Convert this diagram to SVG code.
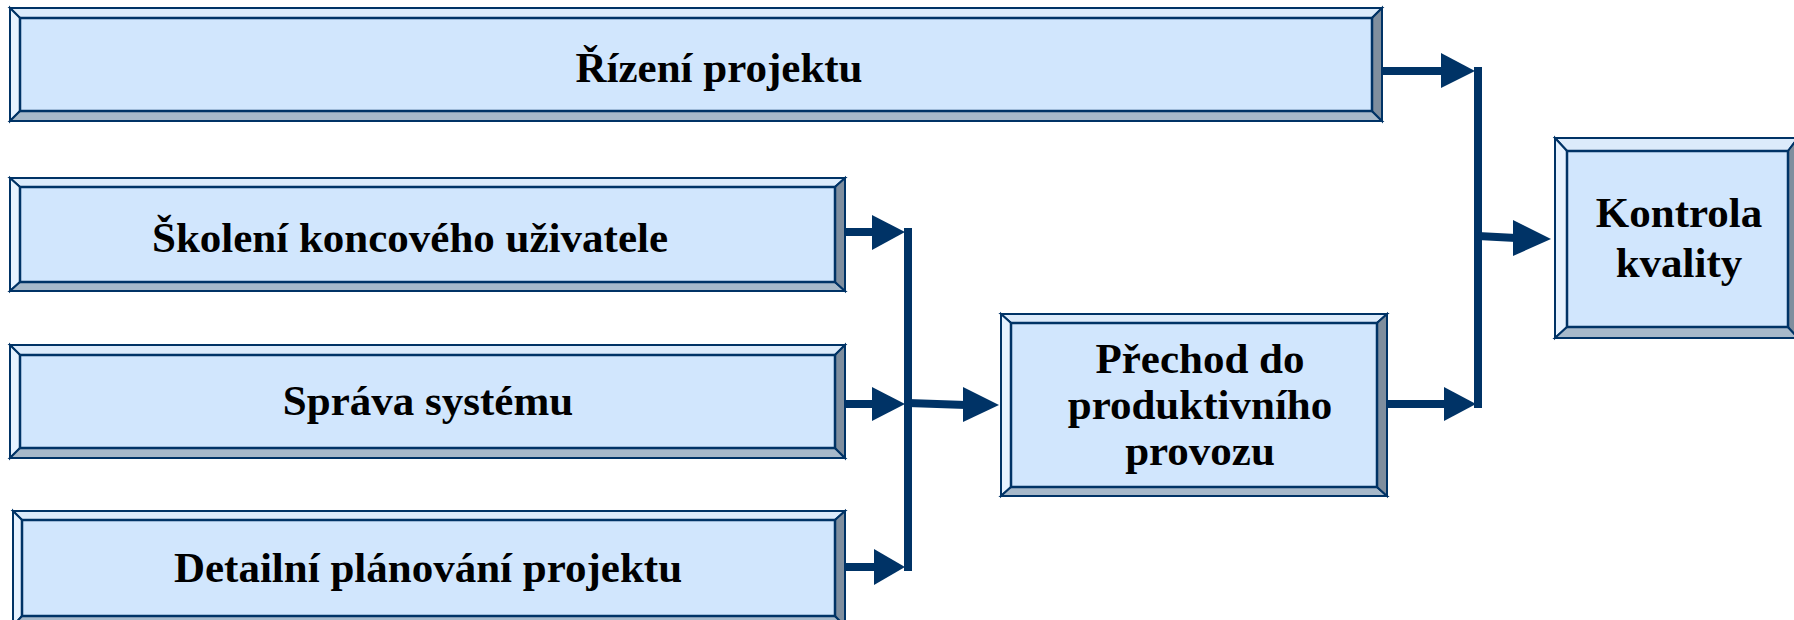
<svg xmlns="http://www.w3.org/2000/svg" width="1794" height="620" viewBox="0 0 1794 620">
<style>
.bt{fill:#DCEBFB;stroke:#003366;stroke-width:2;stroke-linejoin:miter}
.bl{fill:#E6F2FF;stroke:#003366;stroke-width:2}
.bb{fill:#A7B9CA;stroke:#003366;stroke-width:2}
.br{fill:#7F8E9E;stroke:#003366;stroke-width:2}
.bc{fill:#D1E6FD;stroke:#003366;stroke-width:2.5}
.t{font-family:"Liberation Serif","Times New Roman",serif;font-weight:bold;font-size:43px;fill:#000;text-anchor:middle}
.ln{stroke:#003366;stroke-width:8;fill:none}
.ah{fill:#003366}
</style>
<rect width="1794" height="620" fill="#fff"/>
<g id="n-rizeni">
<polygon class="bt" points="10,8 1382,8 1372,18 20,18"/>
<polygon class="bl" points="10,8 20,18 20,111 10,121"/>
<polygon class="bb" points="10,121 20,111 1372,111 1382,121"/>
<polygon class="br" points="1382,8 1382,121 1372,111 1372,18"/>
<rect class="bc" x="20" y="18" width="1352" height="93"/>
<text class="t" x="719" y="82">Řízení projektu</text>
</g>
<g id="n-skoleni">
<polygon class="bt" points="10,178 845,178 835,187 20,187"/>
<polygon class="bl" points="10,178 20,187 20,282 10,291"/>
<polygon class="bb" points="10,291 20,282 835,282 845,291"/>
<polygon class="br" points="845,178 845,291 835,282 835,187"/>
<rect class="bc" x="20" y="187" width="815" height="95"/>
<text class="t" x="410" y="252">Školení koncového uživatele</text>
</g>
<g id="n-sprava">
<polygon class="bt" points="10,345 845,345 835,355 20,355"/>
<polygon class="bl" points="10,345 20,355 20,448 10,458"/>
<polygon class="bb" points="10,458 20,448 835,448 845,458"/>
<polygon class="br" points="845,345 845,458 835,448 835,355"/>
<rect class="bc" x="20" y="355" width="815" height="93"/>
<text class="t" x="428" y="415">Správa systému</text>
</g>
<g id="n-detailni">
<polygon class="bt" points="13,511 845,511 835,520 22,520"/>
<polygon class="bl" points="13,511 22,520 22,616 13,626"/>
<polygon class="bb" points="13,626 22,616 835,616 845,626"/>
<polygon class="br" points="845,511 845,626 835,616 835,520"/>
<rect class="bc" x="22" y="520" width="813" height="96"/>
<text class="t" x="428" y="582">Detailní plánování projektu</text>
</g>
<g id="n-prechod">
<polygon class="bt" points="1001,314 1387,314 1377,323 1011,323"/>
<polygon class="bl" points="1001,314 1011,323 1011,487 1001,496"/>
<polygon class="bb" points="1001,496 1011,487 1377,487 1387,496"/>
<polygon class="br" points="1387,314 1387,496 1377,487 1377,323"/>
<rect class="bc" x="1011" y="323" width="366" height="164"/>
<text class="t" x="1200" y="373">Přechod do</text>
<text class="t" x="1200" y="419">produktivního</text>
<text class="t" x="1200" y="465">provozu</text>
</g>
<g id="n-kontrola">
<polygon class="bt" points="1555,138 1798,138 1788,151 1567,151"/>
<polygon class="bl" points="1555,138 1567,151 1567,327 1555,338"/>
<polygon class="bb" points="1555,338 1567,327 1788,327 1798,338"/>
<polygon class="br" points="1798,138 1798,338 1788,327 1788,151"/>
<rect class="bc" x="1567" y="151" width="221" height="176"/>
<text class="t" x="1679" y="227">Kontrola</text>
<text class="t" x="1679" y="277">kvality</text>
</g>
<g id="connectors">
<line class="ln" x1="1382" y1="71" x2="1444" y2="71"/>
<polygon class="ah" points="1441,53 1475,71 1441,88"/>
<line class="ln" x1="1387" y1="404" x2="1447" y2="404"/>
<polygon class="ah" points="1444,387 1476,404 1444,421"/>
<line class="ln" x1="1478" y1="67" x2="1478" y2="408"/>
<line class="ln" x1="1478" y1="236" x2="1516" y2="238"/>
<polygon class="ah" points="1513,220 1551,239 1513,256"/>
<line class="ln" x1="845" y1="232" x2="875" y2="232"/>
<polygon class="ah" points="872,215 905,232 872,250"/>
<line class="ln" x1="845" y1="404" x2="875" y2="404"/>
<polygon class="ah" points="872,387 905,404 872,421"/>
<line class="ln" x1="845" y1="567" x2="877" y2="567"/>
<polygon class="ah" points="874,549 905,567 874,585"/>
<line class="ln" x1="908" y1="228" x2="908" y2="571"/>
<line class="ln" x1="908" y1="403" x2="966" y2="405"/>
<polygon class="ah" points="963,387 999,405 963,422"/>
</g>
</svg>
